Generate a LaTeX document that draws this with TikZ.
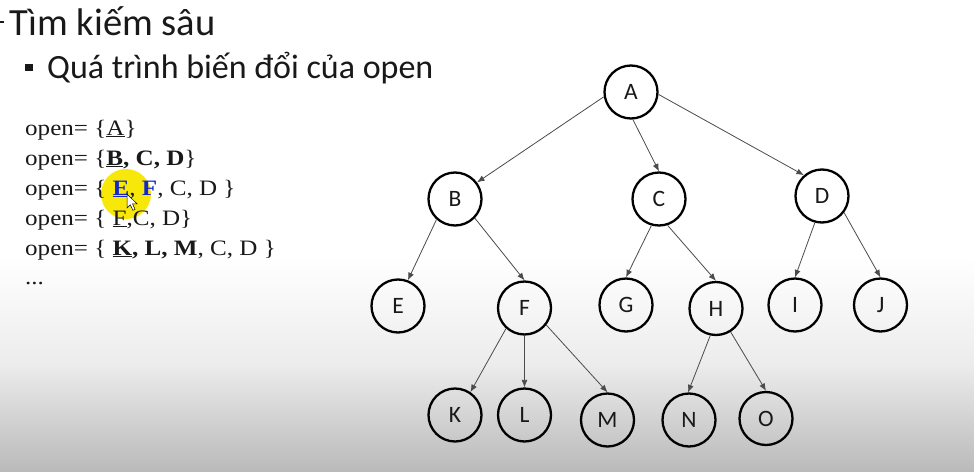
\documentclass[tikz,border=0pt]{standalone}
\usepackage{fontspec}
\setmainfont{Liberation Serif}
\newfontfamily\carlito{Carlito}
\newfontfamily\openfont[FakeStretch=1.14]{Liberation Serif}
\usetikzlibrary{arrows.meta}
\definecolor{txt}{RGB}{25,25,25}
\definecolor{hiblue}{RGB}{20,40,200}
\definecolor{hiyellow}{RGB}{248,232,10}
\definecolor{edgegray}{RGB}{75,75,75}
\definecolor{bggray}{RGB}{186,186,186}
\definecolor{bglight}{RGB}{236,236,236}
\begin{document}
\begin{tikzpicture}[x=1pt,y=-1pt,
  treenode/.style={circle, draw=black, line width=2.3pt, minimum size=53pt, inner sep=0pt,
    font=\carlito\fontsize{23.5}{23.5}\selectfont, text=txt},
  edgeline/.style={draw=edgegray, line width=0.8pt, -{Latex[length=7.5pt,width=6pt]}},
  titletext/.style={anchor=base west, inner sep=0pt, text=txt, font=\carlito\fontsize{38.5}{40}\selectfont},
  subtext/.style={anchor=base west, inner sep=0pt, text=txt, font=\carlito\fontsize{34}{34}\selectfont},
  openline/.style={anchor=base west, inner sep=0pt, text=txt, font=\openfont\fontsize{22}{22}\selectfont}]
\useasboundingbox (0,0) rectangle (974,471);
\fill[white] (0,0) rectangle (974,258);
\shade[top color=white, bottom color=bggray, middle color=bglight] (0,257) rectangle (974,471);
% header
\draw[txt, line width=1.4pt] (0,22) -- (4,22);
\node[titletext] (title) at (9,35) {Tìm kiếm sâu};
\fill[txt] (25,63.5) rectangle (32.5,71);
\node[subtext] (sub) at (47,78) {Quá trình biến đổi của open};
% highlight
\fill[hiyellow] (126,194) circle (25);
% open lines
\node[openline] (l1) at (25,135) {open= \{\underline{A}\}};
\node[openline] (l2) at (25,165) {open= \{\textbf{\underline{B}, C, D}\}};
\node[openline] (l3) at (25,195) {open= \{ \textcolor{hiblue}{\textbf{\underline{E}}}, \textcolor{hiblue}{\textbf{F}}, C, D \}};
\node[openline] (l4) at (25,225) {open= \{ \underline{F},C, D\}};
\node[openline] (l5) at (25,255) {open= \{ \textbf{\underline{K}, L, M}, C, D \}};
\node[openline] (l6) at (25,284) {...};
% cursor
\draw[black, line width=0.5pt, fill=white] (127,194) -- ++(0,14) -- ++(3.3,-3.3) -- ++(2.6,5.6) -- ++(2.2,-1) -- ++(-2.6,-5.4) -- ++(4.6,0) -- cycle;
% tree
\node[treenode] (A) at (631,92) {A};
\node[treenode] (B) at (455,199) {B};
\node[treenode] (C) at (659,199) {C};
\node[treenode] (D) at (822,196) {D};
\node[treenode] (E) at (398,306) {E};
\node[treenode] (F) at (524.5,308) {F};
\node[treenode] (G) at (626,305) {G};
\node[treenode] (H) at (716,308.5) {H};
\node[treenode] (I) at (795,305) {I};
\node[treenode] (J) at (880.5,305) {J};
\node[treenode] (K) at (455,415) {K};
\node[treenode] (L) at (524.5,415) {L};
\node[treenode] (M) at (607.5,420) {M};
\node[treenode] (N) at (689,420) {N};
\node[treenode] (O) at (766,418.5) {O};
\draw[edgeline] (A.190) -- (B.37);
\draw[edgeline] (A.-86) -- (C.90);
\draw[edgeline] (A.-5) -- (D.131);
\draw[edgeline] (B.228) -- (E.69);
\draw[edgeline] (B.-44) -- (F.90);
\draw[edgeline] (C.254) -- (G.90);
\draw[edgeline] (C.-72) -- (H.90);
\draw[edgeline] (D.255) -- (I.90);
\draw[edgeline] (D.-37) -- (J.90);
\draw[edgeline] (F.228) -- (K.56);
\draw[edgeline] (F.270) -- (L.90);
\draw[edgeline] (F.-38) -- (M.90);
\draw[edgeline] (H.258) -- (N.92);
\draw[edgeline] (H.-58) -- (O.90);
\end{tikzpicture}
\end{document}
